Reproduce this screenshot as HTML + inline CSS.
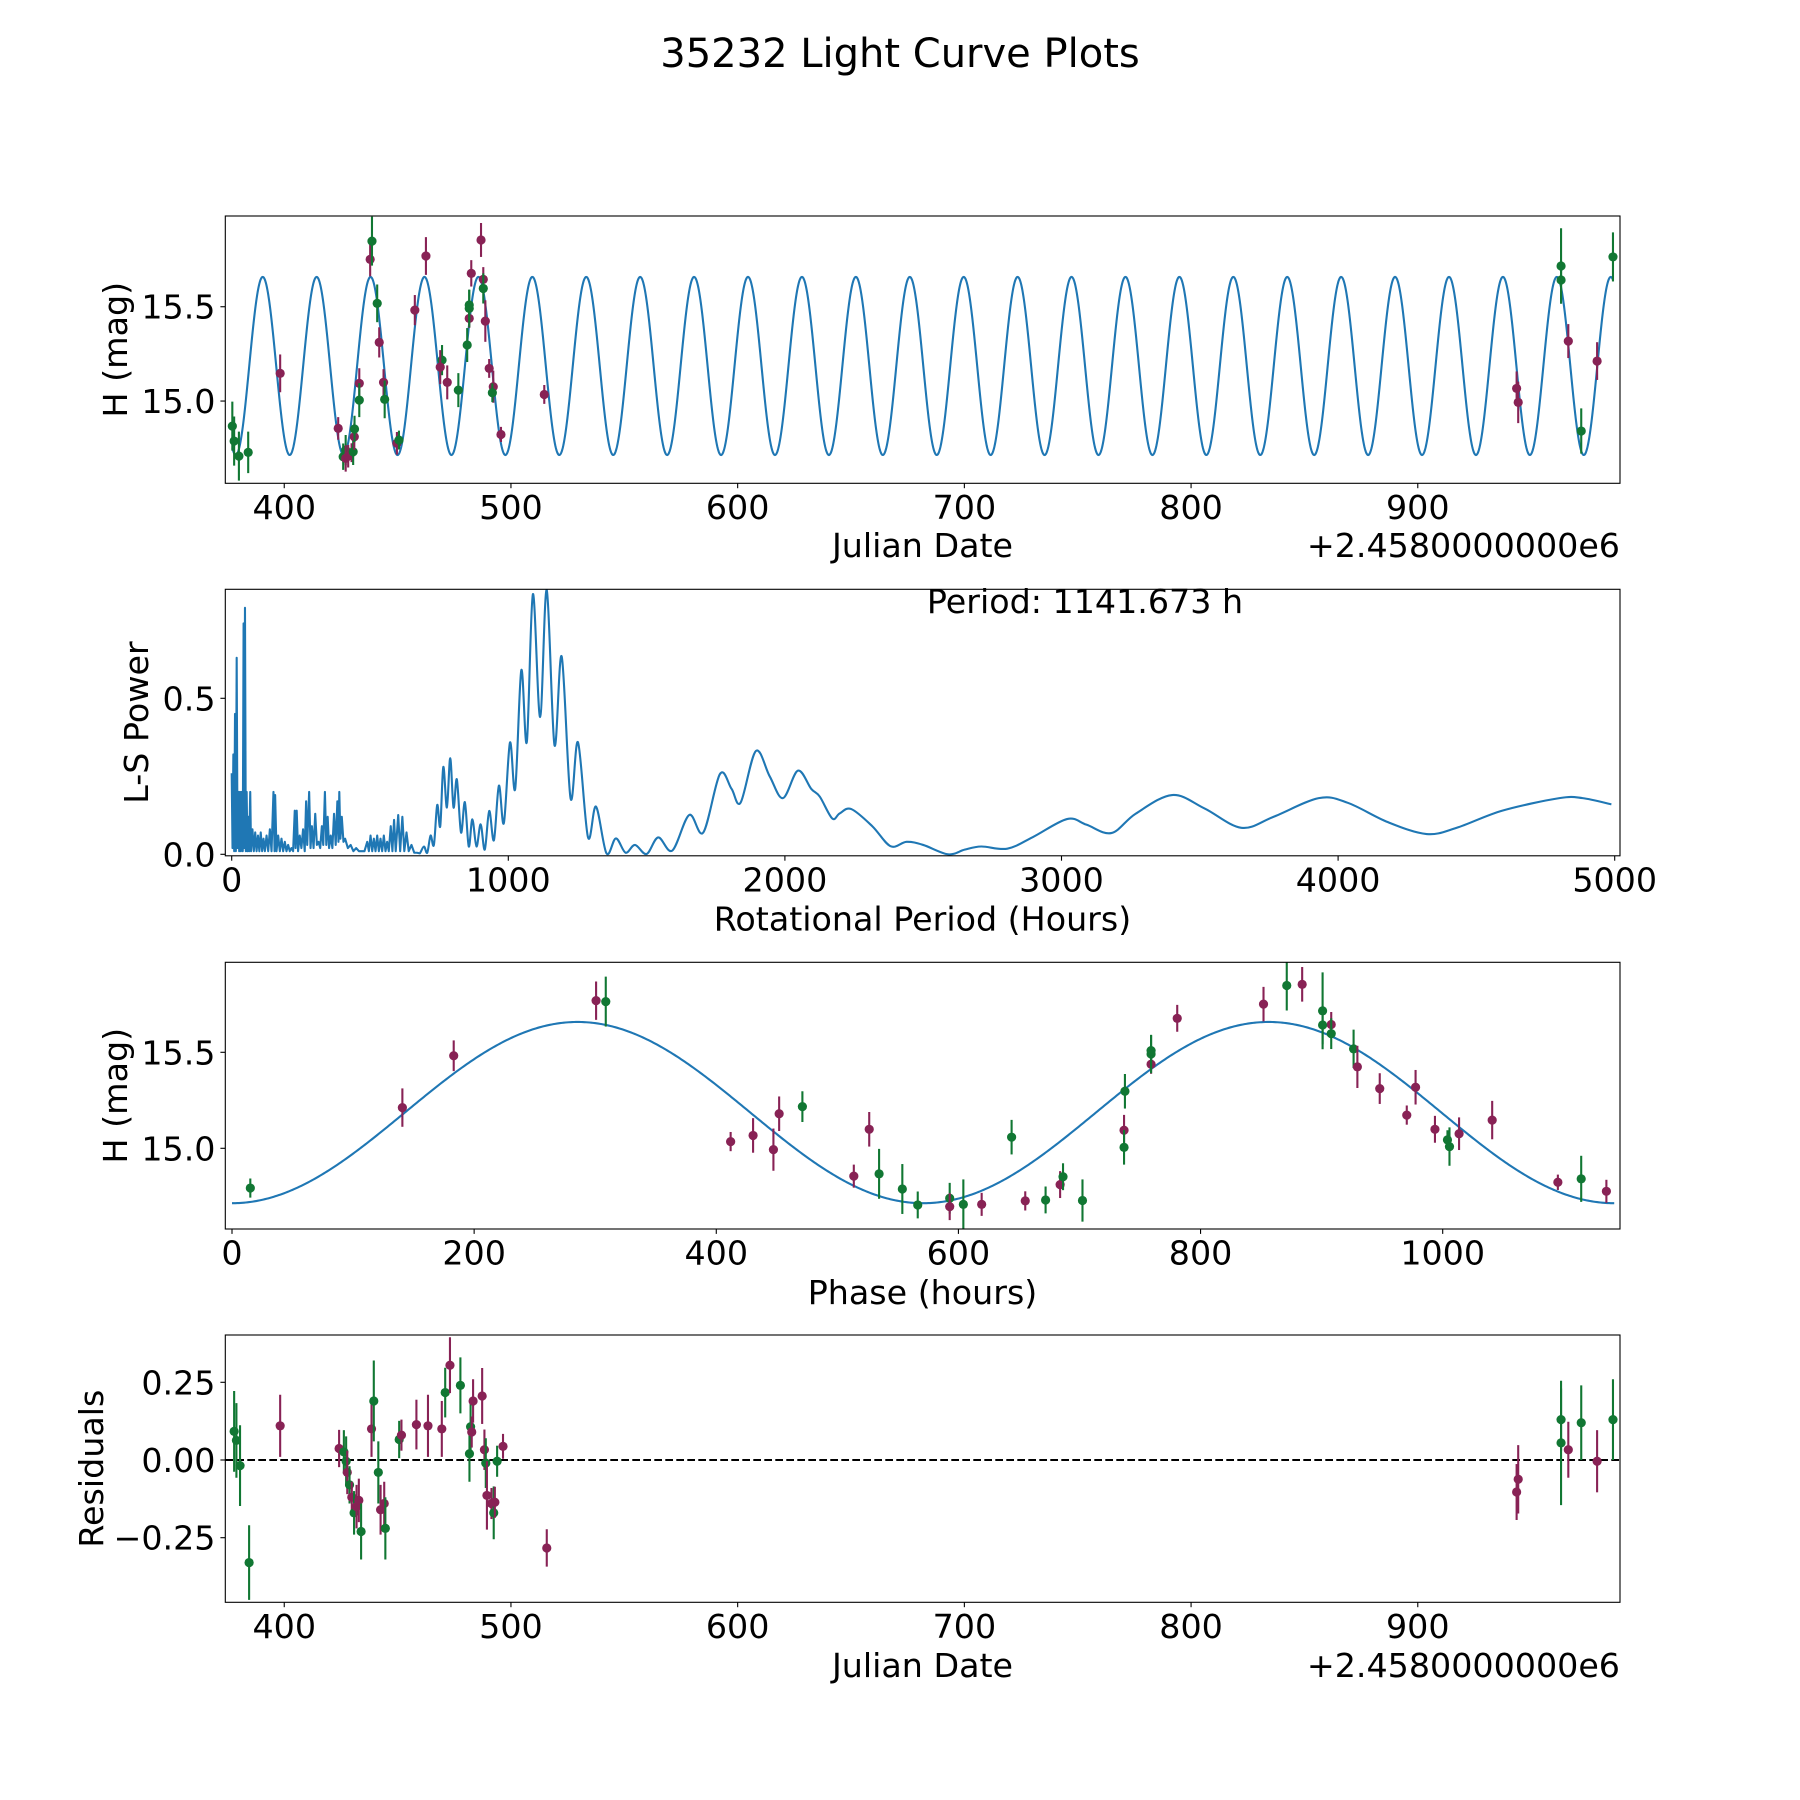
<!DOCTYPE html>
<html><head><meta charset="utf-8"><title>35232 Light Curve Plots</title>
<style>html,body{margin:0;padding:0;background:#fff}svg{display:block}text{font-family:"DejaVu Sans","Liberation Sans",sans-serif;fill:#000}</style>
</head><body>
<svg id="fig" xmlns="http://www.w3.org/2000/svg" width="1800" height="1800" viewBox="0 0 1800 1800">
<rect width="1800" height="1800" fill="#fff"/>
<text x="900" y="67" font-size="40" text-anchor="middle">35232 Light Curve Plots</text>
</svg>
<script>
// ---- data: photometry (panel 1 & 3) ----
const jd = [377.1,377.9,380.0,384.1,398.2,423.8,426.0,427.1,427.1,428.2,429.7,430.4,430.9,431.0,433.1,433.1,437.9,438.7,441.0,441.9,443.8,444.3,449.7,450.6,457.6,462.5,469.6,468.8,471.9,476.8,480.7,481.6,481.6,481.6,482.5,486.8,487.8,487.8,488.7,490.4,492.2,491.8,495.6,514.7,943.6,944.3,963.2,963.2,966.4,972.1,979.1,986.1];
const mag = [14.867,14.788,14.708,14.728,15.147,14.855,14.705,14.74,14.696,14.708,14.726,14.731,14.811,14.852,15.094,15.005,15.751,15.848,15.518,15.311,15.099,15.009,14.776,14.793,15.482,15.769,15.217,15.18,15.099,15.058,15.297,15.438,15.491,15.509,15.677,15.854,15.645,15.597,15.424,15.173,15.076,15.044,14.823,15.035,15.067,14.993,15.716,15.642,15.318,14.841,15.212,15.764];
const magErr = [0.13,0.13,0.13,0.11,0.1,0.06,0.07,0.08,0.07,0.06,0.05,0.07,0.07,0.07,0.08,0.09,0.09,0.13,0.1,0.08,0.07,0.1,0.06,0.05,0.08,0.1,0.08,0.09,0.09,0.09,0.09,0.05,0.1,0.08,0.07,0.09,0.065,0.08,0.11,0.05,0.085,0.05,0.04,0.05,0.09,0.11,0.2,0.1,0.09,0.12,0.1,0.13];
const band = ['g','g','g','g','m','m','g','g','m','m','m','g','m','g','m','g','m','g','g','m','m','g','m','g','m','m','g','m','m','g','g','m','g','g','m','m','m','g','m','m','m','g','m','m','m','m','g','g','m','g','m','g'];
// ---- residuals (panel 4) ----
const resJd = [377.9,378.9,380.5,384.5,398.2,424.2,426.3,427.3,427.8,428.8,429.8,430.8,431.9,432.9,433.9,438.5,439.5,441.5,442.5,444.1,444.6,450.7,451.7,458.3,463.4,469.5,471.0,473.1,477.7,481.7,482.2,482.7,483.3,487.3,488.3,488.9,489.4,491.4,492.4,492.9,493.9,496.5,515.8,943.6,944.3,963.2,963.2,966.4,972.1,979.1,986.1];
const resVal = [0.092,0.063,-0.018,-0.33,0.11,0.037,0.026,-0.004,-0.04,-0.08,-0.12,-0.17,-0.15,-0.13,-0.23,0.1,0.19,-0.04,-0.16,-0.14,-0.22,0.066,0.08,0.114,0.11,0.1,0.217,0.305,0.24,0.02,0.107,0.09,0.19,0.206,0.033,-0.01,-0.114,-0.14,-0.17,-0.136,-0.004,0.044,-0.283,-0.103,-0.062,0.055,0.13,0.033,0.12,-0.004,0.13];
const resErr = [0.13,0.12,0.13,0.12,0.1,0.06,0.07,0.08,0.07,0.06,0.05,0.07,0.07,0.07,0.09,0.09,0.13,0.1,0.08,0.07,0.1,0.06,0.05,0.08,0.1,0.09,0.08,0.09,0.09,0.09,0.09,0.05,0.07,0.09,0.065,0.08,0.11,0.05,0.085,0.05,0.05,0.04,0.06,0.09,0.11,0.2,0.1,0.09,0.12,0.1,0.13];
const resBand = ['g','g','g','g','m','m','g','g','m','g','m','g','m','m','g','m','g','g','m','m','g','g','m','m','m','m','g','m','g','g','g','m','m','m','m','g','m','m','g','m','g','m','m','m','m','g','g','m','g','m','g'];
// ---- periodogram (panel 2) ----
const lsPeriod = [0,3,6,9,12,15,18,21,24,27,30,33,36,40,43,45,48,51,54,57,60,63,67,70,75,80,85,90,95,100,105,110,115,120,126,132,138,144,151,155,157,162,168,174,180,186,192,198,204,210,216,222,228,231,235,240,246,252,258,264,269,273,280,285,290,296,302,308,314,320,326,331,337,342,347,352,358,364,370,376,382,386,389,393,398,404,410,420,430,440,450,460,470,480,490,496,502,508,514,520,526,532,538,544,550,556,562,568,575,581,587,593,602,609,617,624,632,640,650,660,670,680,695,707,719,731,743,754,765,778,790,802,814,829,843,857,870,885,900,915,931,948,966,984,1006,1025,1047,1067,1089,1115,1139,1167,1193,1225,1252,1288,1317,1355,1389,1424,1458,1500,1542,1593,1654,1705,1765,1807,1840,1895,1945,1993,2047,2095,2126,2171,2198,2240,2316,2382,2440,2500,2590,2650,2710,2804,2896,3020,3090,3180,3268,3400,3517,3650,3766,3930,4035,4180,4320,4429,4594,4800,4884,4988];
const lsPower = [0.26,0.02,0.32,0.01,0.45,0.01,0.63,0.02,0.2,0.01,0.2,0.01,0.2,0.01,0.74,0.02,0.79,0.01,0.2,0.01,0.12,0.01,0.2,0.01,0.08,0.01,0.07,0.01,0.06,0.01,0.07,0.01,0.05,0.01,0.06,0.01,0.08,0.01,0.2,0.01,0.19,0.01,0.06,0.01,0.05,0.01,0.04,0.01,0.03,0.01,0.02,0.01,0.14,0.02,0.14,0.01,0.06,0.02,0.08,0.01,0.17,0.03,0.2,0.02,0.09,0.02,0.13,0.03,0.04,0.02,0.09,0.03,0.2,0.03,0.12,0.02,0.06,0.02,0.13,0.03,0.17,0.04,0.2,0.05,0.12,0.04,0.05,0.02,0.03,0.01,0.02,0.01,0.01,0.01,0.04,0.01,0.06,0.01,0.05,0.01,0.06,0.01,0.05,0.01,0.06,0.01,0.04,0.01,0.09,0.01,0.11,0.01,0.126,0.01,0.12,0.01,0.07,0.01,0.03,0.005,0.005,0.003,0.025,0.005,0.06,0.03,0.158,0.09,0.28,0.15,0.308,0.15,0.24,0.07,0.167,0.025,0.112,0.025,0.096,0.015,0.139,0.045,0.22,0.1,0.358,0.21,0.59,0.36,0.834,0.44,0.847,0.35,0.634,0.18,0.359,0.055,0.153,0.003,0.051,0.005,0.03,0.001,0.054,0.012,0.126,0.07,0.257,0.21,0.166,0.331,0.25,0.18,0.268,0.21,0.185,0.115,0.131,0.145,0.09,0.026,0.04,0.03,0.0,0.015,0.025,0.018,0.055,0.113,0.095,0.068,0.13,0.19,0.147,0.085,0.12,0.18,0.165,0.103,0.065,0.085,0.14,0.18,0.18,0.16];
// ---- fit model ----
const bestPeriodH = 1141.673;
const fitMean = [15.186];
const fitAmp = [0.472];
const epochJd = [402.4];
const jdTicks = [400,500,600,700,800,900];
const magTicks = [15.0,15.5];
const lsXTicks = [0,1000,2000,3000,4000,5000];
const lsYTicks = [0.0,0.5];
const phaseTicks = [0,200,400,600,800,1000];
const resTicks = [-0.25,0,0.25];

const NS='http://www.w3.org/2000/svg';
const svg=document.getElementById('fig');
const COL={g:'#117733',m:'#882255'};
const BLUE='#1f77b4';
const L=225.3,R=1620;
const TF=33.3;
function mk(tag,attrs,parent){const e=document.createElementNS(NS,tag);for(const k in attrs)e.setAttribute(k,attrs[k]);(parent||svg).appendChild(e);return e;}
function lin(d0,d1,p0,p1){return v=>p0+(v-d0)*(p1-p0)/(d1-d0);}
function model(ph){return fitMean[0]-fitAmp[0]*Math.cos(2*Math.PI*ph/(bestPeriodH/2));}
function phaseOf(t){let p=((t-epochJd[0])*24)%bestPeriodH;if(p<0)p+=bestPeriodH;return p;}

function axesFrame(name){
  const g=mk('g',{});
  
  
  return g;
}
function drawBox(g,top,bot){
  const r=mk('rect',{x:L,y:top,width:R-L,height:bot-top,fill:'none',stroke:'#000','stroke-width':1.1},g);
  
  
}
function xTicks(g,ticks,sx,bot,fmt){
  ticks.forEach(v=>{const x=sx(v);
    const t=mk('line',{x1:x,x2:x,y1:bot,y2:bot+4.9,stroke:'#000','stroke-width':1.1},g);
    
    
    const tx=mk('text',{x:x,y:bot+35.5,'font-size':TF,'text-anchor':'middle'},g);
    tx.textContent=fmt(v);
    
    
  });
}
function yTicks(g,ticks,sy,fmt){
  ticks.forEach(v=>{const y=sy(v);
    const t=mk('line',{x1:L-4.9,x2:L,y1:y,y2:y,stroke:'#000','stroke-width':1.1},g);
    
    
    const tx=mk('text',{x:L-9.8,y:y+12,'font-size':TF,'text-anchor':'end'},g);
    tx.textContent=fmt(v);
    
    
  });
}
function label(g,txt,x,y,rot,name,size){
  const t=mk('text',{x:x,y:y,'font-size':size||33.3,'text-anchor':'middle',transform:rot?`rotate(-90 ${x} ${y})`:''},g);
  t.textContent=txt;
  
  
  return t;
}
function errPoints(g,xs,ys,es,bs,sx,sy,clipId){
  const pg=mk('g',{'clip-path':`url(#${clipId})`},g);
  xs.forEach((xv,i)=>{
    const x=sx(xv),y=sy(ys[i]),c=COL[bs[i]];
    const e=mk('line',{x1:x,x2:x,y1:sy(ys[i]-es[i]),y2:sy(ys[i]+es[i]),stroke:c,'stroke-width':2.1},pg);
    
    
    const d=mk('circle',{cx:x,cy:y,r:4.6,fill:c},pg);
    
    
  });
}
function clip(id,top,bot){const defs=mk('defs',{});const cp=mk('clipPath',{id:id},defs);mk('rect',{x:L,y:top,width:R-L,height:bot-top},cp);}

const jdFmt=v=>String(v);
// ===== Panel 1 =====
(function(){
  const top=216,bot=483.3;
  const sx=lin(374.0,989.2,L,R), sy=lin(14.564,15.981,bot,top);
  clip('c1',top,bot);
  const g=axesFrame('light-curve-panel');
  let d='';const t0=jd[0],t1=jd[jd.length-1];
  for(let i=0;i<=3000;i++){const t=t0+(t1-t0)*i/3000;d+=(i?'L':'M')+sx(t).toFixed(2)+' '+sy(model(phaseOf(t))).toFixed(2);}
  const p=mk('path',{d:d,fill:'none',stroke:BLUE,'stroke-width':2.1,'clip-path':'url(#c1)'},g);
  
  
  errPoints(g,jd,mag,magErr,band,sx,sy,'c1');
  drawBox(g,top,bot);
  xTicks(g,jdTicks,sx,bot,jdFmt);
  yTicks(g,magTicks,sy,v=>v.toFixed(1));
  label(g,'Julian Date',922.5,557,false,'x-axis-title');
  const off=mk('text',{x:R,y:557,'font-size':TF,'text-anchor':'end'},g);off.textContent='+2.4580000000e6';
  
  
  label(g,'H (mag)',127,(top+bot)/2,true,'y-axis-title');
})();
// ===== Panel 2 =====
(function(){
  const top=589.3,bot=855.8;
  const sx=lin(0,1000,231.7,508.3), sy=lin(0,0.5,854.3,698.3);
  clip('c2',top,bot);
  const g=axesFrame('periodogram-panel');
  const pts=lsPeriod.map((v,i)=>[sx(v),sy(lsPower[i])]);
  let d='M'+pts[0][0]+' '+pts[0][1];
  for(let i=1;i<pts.length;i++){
    if(lsPeriod[i]<=690){d+='L'+pts[i][0].toFixed(2)+' '+pts[i][1].toFixed(2);}
    else{const p0=pts[Math.max(i-2,0)],p1=pts[i-1],p2=pts[i],p3=pts[Math.min(i+1,pts.length-1)];
      const c1x=p1[0]+(p2[0]-p0[0])/6,c1y=p1[1]+(p2[1]-p0[1])/6,c2x=p2[0]-(p3[0]-p1[0])/6,c2y=p2[1]-(p3[1]-p1[1])/6;
      d+=`C${c1x.toFixed(2)} ${c1y.toFixed(2)} ${c2x.toFixed(2)} ${c2y.toFixed(2)} ${p2[0].toFixed(2)} ${p2[1].toFixed(2)}`;}
  }
  const p=mk('path',{d:d,fill:'none',stroke:BLUE,'stroke-width':2.1,'stroke-linejoin':'round','clip-path':'url(#c2)'},g);
  
  
  drawBox(g,top,bot);
  xTicks(g,lsXTicks,sx,bot,v=>String(v));
  yTicks(g,lsYTicks,sy,v=>v.toFixed(1));
  label(g,'Rotational Period (Hours)',922.5,930.5,false,'x-axis-title');
  label(g,'L-S Power',148,(top+bot)/2,true,'y-axis-title');
  label(g,'Period: '+bestPeriodH.toFixed(3)+' h',1085,613,false,'period-annotation');
})();
// ===== Panel 3 =====
(function(){
  const top=962.3,bot=1229;
  const sx=lin(0,1000,232,1442.7), sy=lin(15.0,15.5,1148.3,1052.3);
  clip('c3',top,bot);
  const g=axesFrame('phase-folded-panel');
  let d='';
  for(let i=0;i<=800;i++){const ph=bestPeriodH*i/800;d+=(i?'L':'M')+sx(ph).toFixed(2)+' '+sy(model(ph)).toFixed(2);}
  const p=mk('path',{d:d,fill:'none',stroke:BLUE,'stroke-width':2.1},g);
  
  
  errPoints(g,jd.map(phaseOf),mag,magErr,band,sx,sy,'c3');
  drawBox(g,top,bot);
  xTicks(g,phaseTicks,sx,bot,v=>String(v));
  yTicks(g,magTicks,sy,v=>v.toFixed(1));
  label(g,'Phase (hours)',922.5,1304,false,'x-axis-title');
  label(g,'H (mag)',127,(top+bot)/2,true,'y-axis-title');
})();
// ===== Panel 4 =====
(function(){
  const top=1335,bot=1602.3;
  const sx=lin(374.0,989.2,L,R), sy=lin(0,0.25,1460,1382.3);
  clip('c4',top,bot);
  const g=axesFrame('residuals-panel');
  const z=mk('line',{x1:L,x2:R,y1:sy(0),y2:sy(0),stroke:'#000','stroke-width':2.1,'stroke-dasharray':'7.7 3.3'},g);
  
  
  errPoints(g,resJd,resVal,resErr,resBand,sx,sy,'c4');
  drawBox(g,top,bot);
  xTicks(g,jdTicks,sx,bot,jdFmt);
  yTicks(g,resTicks,sy,v=>(v<0?'\u2212':'')+Math.abs(v).toFixed(2));
  label(g,'Julian Date',922.5,1677,false,'x-axis-title');
  const off=mk('text',{x:R,y:1677,'font-size':TF,'text-anchor':'end'},g);off.textContent='+2.4580000000e6';
  
  
  label(g,'Residuals',103,(top+bot)/2,true,'y-axis-title');
})();
</script>
</body></html>
